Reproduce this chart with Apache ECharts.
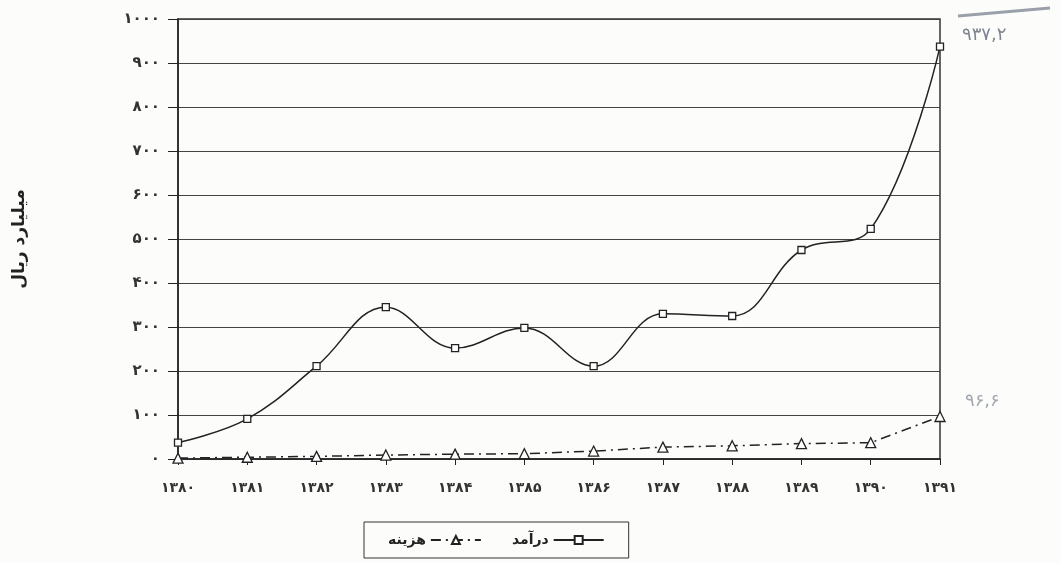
<!DOCTYPE html>
<html>
<head>
<meta charset="utf-8">
<script src="https://cdn.jsdelivr.net/npm/echarts@6/dist/echarts.min.js"></script>
<style>
  html, body { margin: 0; padding: 0; background: #fcfcfb; }
  #chart { width: 1061px; height: 563px; }
</style>
</head>
<body>
<div id="chart"></div>
<script>
// years (Persian digits)
var years = ["۱۳۸۰", "۱۳۸۱", "۱۳۸۲", "۱۳۸۳", "۱۳۸۴", "۱۳۸۵", "۱۳۸۶", "۱۳۸۷", "۱۳۸۸", "۱۳۸۹", "۱۳۹۰", "۱۳۹۱"];
// درآمد (revenue)
var revenue = [37, 91, 211, 345, 252, 298, 211, 330, 325, 475, 523, 937.2];
// هزینه (cost)
var cost = [2, 4, 6, 9, 11, 12, 18, 27, 30, 35, 37, 96.6];
var faDigits = ["۰", "۱", "۲", "۳", "۴", "۵", "۶", "۷", "۸", "۹"];

function toFa(n) {
  return String(n).replace(/[0-9]/g, function (d) { return faDigits[+d]; });
}

var chart = echarts.init(document.getElementById("chart"));
var font = "'DejaVu Sans', 'Noto Sans', sans-serif";

var option = {
  backgroundColor: "#fcfcfb",
  animation: false,
  grid: {
    left: 178,
    right: 121,
    top: 19,
    bottom: 104,
    show: true,
    borderColor: "#333",
    borderWidth: 1.5
  },
  legend: {
    top: 522,
    left: 364,
    data: ["هزینه", "درآمد"],
    align: "right",
    borderColor: "#333",
    borderWidth: 1,
    padding: [11, 24],
    itemWidth: 50,
    itemHeight: 10,
    itemGap: 30,
    textStyle: { fontFamily: font, fontSize: 14, fontWeight: "bold", color: "#222" }
  },
  xAxis: {
    type: "category",
    data: years,
    boundaryGap: false,
    axisLine: { lineStyle: { color: "#222", width: 1.5 } },
    axisTick: { show: true, length: 6, alignWithLabel: true, lineStyle: { color: "#222" } },
    axisLabel: { margin: 22, fontFamily: font, fontSize: 14, fontWeight: "bold", color: "#333" },
    splitLine: { show: false }
  },
  yAxis: {
    type: "value",
    min: 0,
    max: 1000,
    interval: 100,
    name: "میلیارد ریال",
    nameLocation: "middle",
    nameGap: 150,
    nameTextStyle: { fontFamily: font, fontSize: 17, fontWeight: "bold", color: "#222" },
    axisLine: { show: true, lineStyle: { color: "#222", width: 1.5 } },
    axisTick: { show: true, length: 10, lineStyle: { color: "#222" } },
    axisLabel: { margin: 18, fontFamily: font, fontSize: 15, fontWeight: "bold", color: "#333", formatter: function (v) { return toFa(v); } },
    splitLine: { show: true, lineStyle: { color: "#444", width: 1.2 } }
  },
  series: [
    {
      name: "درآمد",
      type: "line",
      data: revenue,
      smooth: 0.4,
      symbol: "rect",
      symbolSize: 7,
      itemStyle: { color: "#fff", borderColor: "#222", borderWidth: 1.3 },
      lineStyle: { color: "#222", width: 1.5 },
      z: 3
    },
    {
      name: "هزینه",
      type: "line",
      data: cost,
      symbol: "triangle",
      symbolSize: 10,
      itemStyle: { color: "#fff", borderColor: "#222", borderWidth: 1.3 },
      lineStyle: { color: "#222", width: 1.5, type: [10, 5, 2, 5] },
      z: 3
    }
  ],
  graphic: [
    {
      type: "text",
      left: 962,
      top: 26,
      style: { text: "۹۳۷,۲", fontFamily: font, fontSize: 18, fill: "#7f8590" }
    },
    {
      type: "line",
      shape: { x1: 958, y1: 16, x2: 1050, y2: 8 },
      style: { stroke: "#9aa0aa", lineWidth: 3 }
    },
    {
      type: "text",
      left: 965,
      top: 392,
      style: { text: "۹۶,۶", fontFamily: font, fontSize: 18, fill: "#a3a8b0" }
    }
  ]
};

chart.setOption(option);
</script>
</body>
</html>
